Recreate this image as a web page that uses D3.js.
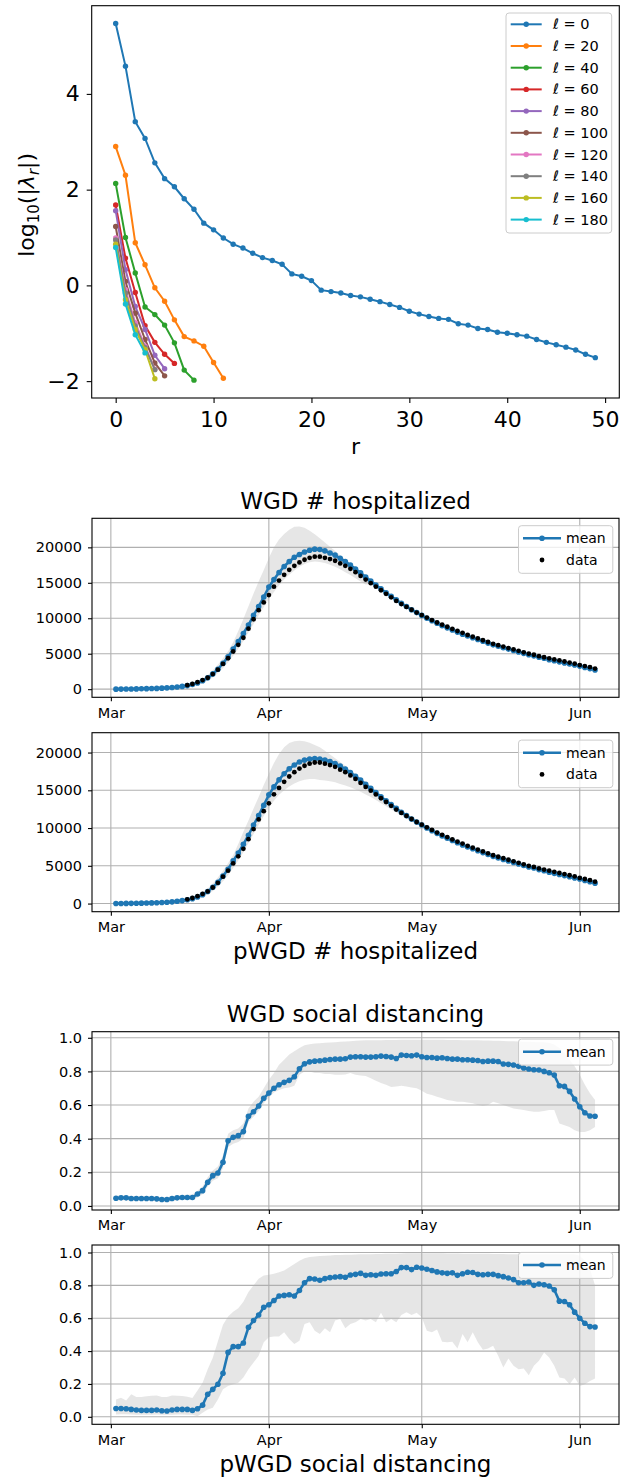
<!DOCTYPE html>
<html>
<head>
<meta charset="utf-8">
<style>
    body { margin: 0; background: #fff; }
    svg text { font-family: 'DejaVu Sans', sans-serif; fill: #000; }
    .axis .domain { display: none; }
    .axis .tick line { stroke: #000; stroke-width: 1.1; }
    .top-axis .tick text { font-size: 22px; }
    .low-axis .tick text { font-size: 14.5px; }
    .grid line { stroke: #b0b0b0; stroke-width: 1.1; }
    .frame { fill: none; stroke: #000; stroke-width: 1.1; }
    .legend-box { fill: #fff; fill-opacity: 0.8; stroke: #cccccc; stroke-width: 1; }
</style>
</head>
<body>
<svg id="fig" width="622" height="1483"></svg>

<script src="https://d3js.org/d3.v7.min.js"></script>
<script>
// ---- top panel: log10 |lambda_r| for several l ----
const ellLabels = [0, 20, 40, 60, 80, 100, 120, 140, 160, 180];
const lam0 = [5.47, 4.58, 3.42, 3.07, 2.56, 2.23, 2.06, 1.81, 1.59, 1.30,
    1.16, 0.99, 0.86, 0.78, 0.67, 0.58, 0.52, 0.44, 0.24, 0.19,
    0.10, -0.10, -0.13, -0.16, -0.21, -0.24, -0.29, -0.34, -0.40, -0.46,
    -0.54, -0.60, -0.65, -0.69, -0.71, -0.80, -0.83, -0.90, -0.92, -0.98,
    -1.00, -1.03, -1.06, -1.13, -1.19, -1.24, -1.29, -1.35, -1.44, -1.51];
const lam20 = [2.90, 2.30, 0.89, 0.43, -0.05, -0.33, -0.72, -1.07, -1.16, -1.27, -1.61, -1.94];
const lam40 = [2.13, 1.00, 0.26, -0.45, -0.61, -0.83, -1.20, -1.77, -1.98];
const lam60 = [1.68, 0.57, -0.15, -0.84, -1.19, -1.44, -1.63];
const lam80 = [1.56, 0.33, -0.44, -0.92, -1.46, -1.74];
const lam100 = [1.23, 0.08, -0.58, -1.13, -1.62, -1.89];
const lam120 = [0.99, -0.09, -0.78, -1.27, -1.75];
const lam140 = [0.95, -0.16, -0.85, -1.30, -1.76];
const lam160 = [0.86, -0.30, -0.92, -1.34, -1.95];
const lam180 = [0.79, -0.39, -1.03, -1.41];
const lamSeries = [lam0, lam20, lam40, lam60, lam80, lam100, lam120, lam140, lam160, lam180];
const topXTicks = [0, 10, 20, 30, 40, 50];
const topYTicks = [-2, 0, 2, 4];

// ---- daily series, Mar 2 .. Jun 4 (95 days) ----
const nDays = 95;
const monthTicks = ["2020-03-01", "2020-04-01", "2020-05-01", "2020-06-01"];

const hospData = [null, null, null, null, null, null, null, null, null, null,
    null, null, null, null, 560, 740, 980, 1280, 1610, 2130,
    2750, 3560, 4360, 5310, 6260, 7250, 8530, 9860, 11140, 12230,
    13270, 14460, 15310, 16120, 16830, 17400, 17870, 18250, 18530, 18680,
    18680, 18530, 18340, 18110, 17730, 17400, 16970, 16500, 15970, 15450,
    14950, 14450, 13950, 13450, 12950, 12450, 12000, 11600, 11200, 10800,
    10450, 10100, 9750, 9400, 9100, 8800, 8500, 8200, 7950, 7650,
    7400, 7150, 6900, 6650, 6400, 6200, 6000, 5800, 5600, 5400,
    5200, 5000, 4850, 4650, 4500, 4350, 4200, 4050, 3900, 3750,
    3600, 3400, 3250, 3100, 2900];

const wgdHospMean = [0, 10, 20, 30, 40, 55, 70, 90, 110, 140,
    180, 230, 300, 390, 500, 650, 870, 1180, 1600, 2150,
    2800, 3650, 4550, 5650, 6700, 7850, 9050, 10400, 11650, 13000,
    14400, 15450, 16450, 17300, 18000, 18600, 19000, 19350, 19600, 19750,
    19700, 19500, 19200, 18900, 18450, 18000, 17500, 16950, 16400, 15800,
    15250, 14700, 14150, 13600, 13100, 12600, 12100, 11650, 11200, 10800,
    10400, 10000, 9650, 9300, 8950, 8650, 8350, 8050, 7750, 7500,
    7250, 7000, 6750, 6500, 6250, 6050, 5850, 5650, 5450, 5250,
    5050, 4850, 4700, 4500, 4350, 4150, 4000, 3850, 3700, 3550,
    3400, 3250, 3050, 2900, 2700];
const wgdHospUpper = [0, 15, 30, 45, 60, 80, 100, 125, 150, 190,
    240, 300, 390, 500, 640, 830, 1100, 1500, 2000, 2650,
    3450, 4350, 5350, 6600, 8200, 9900, 11700, 13500, 15200, 16800,
    18500, 20000, 21100, 21900, 22500, 22900, 22950, 22750, 22350, 21850,
    21300, 20700, 20100, 19500, 18900, 18300, 17700, 17100, 16500, 15950,
    15400, 14850, 14300, 13750, 13250, 12750, 12250, 11800, 11350, 10950,
    10550, 10150, 9800, 9450, 9100, 8800, 8500, 8200, 7900, 7650,
    7400, 7150, 6900, 6650, 6400, 6200, 6000, 5800, 5600, 5400,
    5200, 5000, 4850, 4650, 4500, 4300, 4150, 4000, 3850, 3700,
    3550, 3400, 3200, 3050, 2850];
const wgdHospLower = [0, 5, 10, 20, 25, 35, 45, 60, 75, 95,
    125, 160, 210, 280, 370, 480, 640, 870, 1200, 1650,
    2250, 2950, 3750, 4700, 5700, 6800, 8000, 9200, 10400, 11600,
    12700, 13700, 14650, 15450, 16150, 16750, 17250, 17650, 17900, 18000,
    17950, 17800, 17550, 17250, 16900, 16500, 16100, 15650, 15200, 14750,
    14800, 14300, 13800, 13300, 12850, 12350, 11900, 11450, 11000, 10600,
    10200, 9800, 9450, 9100, 8750, 8450, 8150, 7850, 7550, 7300,
    7050, 6800, 6550, 6300, 6050, 5850, 5650, 5450, 5250, 5050,
    4850, 4650, 4500, 4300, 4150, 3950, 3800, 3650, 3500, 3350,
    3200, 3050, 2850, 2700, 2500];

const pwgdHospMean = [0, 10, 20, 30, 40, 55, 70, 90, 110, 140,
    180, 230, 300, 390, 500, 650, 870, 1180, 1600, 2150,
    2800, 3650, 4550, 5650, 6700, 7850, 9050, 10400, 11650, 13000,
    14400, 15450, 16400, 17200, 17850, 18350, 18750, 19000, 19150, 19200,
    19150, 19000, 18800, 18550, 18200, 17800, 17350, 16850, 16350, 15800,
    15250, 14700, 14150, 13600, 13100, 12600, 12100, 11650, 11200, 10800,
    10400, 10000, 9650, 9300, 8950, 8650, 8350, 8050, 7750, 7500,
    7250, 7000, 6750, 6500, 6250, 6050, 5850, 5650, 5450, 5250,
    5050, 4850, 4700, 4500, 4350, 4150, 4000, 3850, 3700, 3550,
    3400, 3250, 3050, 2900, 2700];
const pwgdHospUpper = [0, 15, 30, 45, 60, 80, 100, 125, 150, 190,
    240, 300, 390, 500, 640, 830, 1100, 1500, 2000, 2650,
    3450, 4350, 5350, 6400, 7900, 9500, 11000, 12600, 14100, 15700,
    17200, 18600, 19800, 20700, 21250, 21500, 21550, 21500, 21300, 21000,
    20700, 20250, 19750, 19250, 18750, 18250, 17700, 17150, 16600, 16000,
    15400, 14850, 14300, 13750, 13250, 12750, 12250, 11800, 11350, 10950,
    10550, 10150, 9800, 9450, 9100, 8800, 8500, 8200, 7900, 7650,
    7400, 7150, 6900, 6650, 6400, 6200, 6000, 5800, 5600, 5400,
    5200, 5000, 4850, 4650, 4500, 4300, 4150, 4000, 3850, 3700,
    3550, 3400, 3200, 3050, 2850];
const pwgdHospLower = [0, 5, 10, 20, 25, 35, 45, 60, 75, 95,
    125, 160, 210, 280, 370, 480, 640, 870, 1200, 1650,
    2250, 2950, 3750, 4700, 5700, 6800, 8000, 9200, 10400, 11600,
    12700, 13600, 14400, 15000, 15500, 15900, 16200, 16400, 16500, 16500,
    16350, 16300, 16200, 16050, 15850, 15650, 15400, 15100, 14800, 14450,
    14100, 13700, 13300, 12900, 12450, 12050, 11650, 11250, 10850, 10500,
    10200, 9800, 9450, 9100, 8750, 8450, 8150, 7850, 7550, 7300,
    7050, 6800, 6550, 6300, 6050, 5850, 5650, 5450, 5250, 5050,
    4850, 4650, 4500, 4300, 4150, 3950, 3800, 3650, 3500, 3350,
    3200, 3050, 2850, 2700, 2500];

const wgdSocMean = [0.046, 0.048, 0.048, 0.044, 0.044, 0.044, 0.044, 0.044, 0.042, 0.038,
    0.038, 0.044, 0.048, 0.050, 0.050, 0.050, 0.071, 0.091, 0.141, 0.180,
    0.196, 0.260, 0.388, 0.408, 0.418, 0.442, 0.533, 0.560, 0.594, 0.640,
    0.671, 0.700, 0.721, 0.735, 0.747, 0.768, 0.816, 0.846, 0.857, 0.861,
    0.863, 0.867, 0.871, 0.873, 0.873, 0.875, 0.885, 0.887, 0.887, 0.885,
    0.885, 0.887, 0.891, 0.889, 0.885, 0.877, 0.897, 0.895, 0.893, 0.897,
    0.887, 0.883, 0.883, 0.879, 0.881, 0.877, 0.873, 0.873, 0.869, 0.869,
    0.867, 0.865, 0.859, 0.861, 0.861, 0.859, 0.844, 0.842, 0.838, 0.830,
    0.820, 0.814, 0.810, 0.808, 0.800, 0.792, 0.778, 0.715, 0.711, 0.681,
    0.636, 0.590, 0.554, 0.535, 0.533];
const wgdSocUpper = [0.060, 0.062, 0.062, 0.058, 0.058, 0.058, 0.058, 0.058, 0.056, 0.052,
    0.052, 0.058, 0.062, 0.065, 0.066, 0.068, 0.090, 0.115, 0.170, 0.210,
    0.235, 0.300, 0.430, 0.450, 0.460, 0.490, 0.580, 0.620, 0.650, 0.700,
    0.750, 0.790, 0.840, 0.870, 0.900, 0.920, 0.940, 0.955, 0.962, 0.966,
    0.968, 0.970, 0.972, 0.974, 0.976, 0.978, 0.980, 0.982, 0.984, 0.985,
    0.985, 0.986, 0.986, 0.987, 0.987, 0.987, 0.988, 0.988, 0.988, 0.988,
    0.988, 0.988, 0.988, 0.988, 0.988, 0.987, 0.987, 0.987, 0.986, 0.986,
    0.985, 0.985, 0.984, 0.984, 0.983, 0.982, 0.981, 0.980, 0.979, 0.978,
    0.977, 0.976, 0.975, 0.974, 0.973, 0.970, 0.960, 0.940, 0.910, 0.870,
    0.830, 0.780, 0.720, 0.670, 0.630];
const wgdSocLower = [0.032, 0.034, 0.034, 0.030, 0.030, 0.030, 0.030, 0.030, 0.028, 0.024,
    0.024, 0.030, 0.034, 0.036, 0.036, 0.035, 0.050, 0.070, 0.115, 0.150,
    0.165, 0.225, 0.350, 0.370, 0.380, 0.400, 0.500, 0.530, 0.565, 0.610,
    0.645, 0.675, 0.690, 0.700, 0.705, 0.715, 0.780, 0.800, 0.800, 0.790,
    0.790, 0.785, 0.785, 0.780, 0.780, 0.782, 0.790, 0.780, 0.775, 0.772,
    0.760, 0.745, 0.731, 0.720, 0.707, 0.710, 0.715, 0.710, 0.705, 0.700,
    0.685, 0.667, 0.660, 0.650, 0.640, 0.630, 0.625, 0.620, 0.620, 0.615,
    0.610, 0.600, 0.594, 0.600, 0.620, 0.610, 0.600, 0.590, 0.580, 0.575,
    0.570, 0.565, 0.560, 0.560, 0.565, 0.570, 0.570, 0.490, 0.480, 0.470,
    0.450, 0.440, 0.440, 0.450, 0.470];

const pwgdSocMean = [0.051, 0.051, 0.049, 0.045, 0.041, 0.039, 0.039, 0.039, 0.041, 0.037,
    0.035, 0.041, 0.045, 0.045, 0.045, 0.039, 0.049, 0.071, 0.137, 0.167,
    0.198, 0.265, 0.392, 0.427, 0.427, 0.449, 0.545, 0.586, 0.620, 0.667,
    0.682, 0.708, 0.735, 0.739, 0.743, 0.735, 0.769, 0.816, 0.841, 0.839,
    0.831, 0.841, 0.847, 0.851, 0.853, 0.849, 0.863, 0.867, 0.873, 0.861,
    0.865, 0.861, 0.869, 0.871, 0.871, 0.884, 0.908, 0.908, 0.896, 0.910,
    0.906, 0.898, 0.890, 0.882, 0.876, 0.873, 0.876, 0.861, 0.871, 0.880,
    0.878, 0.867, 0.865, 0.867, 0.867, 0.859, 0.853, 0.845, 0.835, 0.816,
    0.816, 0.820, 0.800, 0.808, 0.804, 0.796, 0.773, 0.704, 0.702, 0.682,
    0.637, 0.600, 0.569, 0.549, 0.547];
const pwgdSocUpper = [0.106, 0.116, 0.100, 0.137, 0.120, 0.120, 0.125, 0.128, 0.130, 0.120,
    0.120, 0.130, 0.128, 0.126, 0.122, 0.115, 0.160, 0.208, 0.290, 0.360,
    0.460, 0.560, 0.610, 0.640, 0.660, 0.700, 0.760, 0.800, 0.840, 0.860,
    0.865, 0.870, 0.880, 0.890, 0.910, 0.930, 0.950, 0.965, 0.972, 0.975,
    0.978, 0.980, 0.982, 0.984, 0.985, 0.986, 0.987, 0.988, 0.990, 0.990,
    0.990, 0.991, 0.991, 0.992, 0.992, 0.993, 0.994, 0.995, 0.995, 0.996,
    0.996, 0.996, 0.995, 0.995, 0.995, 0.994, 0.994, 0.994, 0.993, 0.993,
    0.993, 0.992, 0.992, 0.992, 0.991, 0.991, 0.991, 0.990, 0.990, 0.990,
    0.990, 0.990, 0.990, 0.990, 0.990, 0.990, 0.990, 0.990, 0.990, 0.990,
    0.990, 0.980, 0.950, 0.900, 0.800];
const pwgdSocLower = [0.014, 0.015, 0.016, 0.014, 0.013, 0.012, 0.012, 0.013, 0.014, 0.013,
    0.012, 0.013, 0.014, 0.014, 0.013, 0.012, 0.004, 0.024, 0.045, 0.055,
    0.106, 0.167, 0.188, 0.198, 0.208, 0.239, 0.290, 0.330, 0.371, 0.453,
    0.484, 0.488, 0.488, 0.514, 0.473, 0.443, 0.463, 0.565, 0.576, 0.524,
    0.504, 0.539, 0.514, 0.586, 0.596, 0.539, 0.565, 0.576, 0.596, 0.586,
    0.596, 0.576, 0.633, 0.576, 0.596, 0.576, 0.620, 0.637, 0.620, 0.633,
    0.606, 0.524, 0.514, 0.531, 0.457, 0.453, 0.457, 0.416, 0.504, 0.453,
    0.514, 0.453, 0.408, 0.416, 0.433, 0.371, 0.300, 0.355, 0.310, 0.290,
    0.294, 0.253, 0.310, 0.341, 0.392, 0.361, 0.310, 0.239, 0.233, 0.198,
    0.239, 0.188, 0.198, 0.218, 0.233];

const hospTicks = [0, 5000, 10000, 15000, 20000];
const socTicks = [0, 0.2, 0.4, 0.6, 0.8, 1.0];

const tab10 = ["#1f77b4", "#ff7f0e", "#2ca02c", "#d62728", "#9467bd",
    "#8c564b", "#e377c2", "#7f7f7f", "#bcbd22", "#17becf"];

const svg = d3.select("#fig");

// matplotlib-style 5% padding around data range
function pad(ext) {
    let m = (ext[1] - ext[0]) * 0.05;
    return [ext[0] - m, ext[1] + m];
}

// ================= top panel =================
{
    let L = 91.7, R = 619.3, T = 5.7, B = 398;
    let allVals = lamSeries.flat();
    let x = d3.scaleLinear().domain(pad([0, 49])).range([L, R]);
    let y = d3.scaleLinear().domain(pad(d3.extent(allVals))).range([B, T]);
    let g = svg.append("g");

    g.append("g")
        .attr("class", "axis top-axis")
        .attr("transform", `translate(0,${B})`)
        .call(d3.axisBottom(x).tickValues(topXTicks).tickSize(5).tickPadding(8));
    g.append("g")
        .attr("class", "axis top-axis")
        .attr("transform", `translate(${L},0)`)
        .call(d3.axisLeft(y).tickValues(topYTicks).tickSize(5).tickPadding(7));

    let line = d3.line().x((d, i) => x(i)).y(d => y(d));
    lamSeries.forEach((s, k) => {
        let sg = g.append("g");
        sg.append("path")
            .attr("d", line(s))
            .attr("fill", "none")
            .attr("stroke", tab10[k])
            .attr("stroke-width", 2);
        sg.selectAll("circle")
            .data(s)
            .join("circle")
            .attr("cx", (d, i) => x(i))
            .attr("cy", d => y(d))
            .attr("r", 2.7)
            .attr("fill", tab10[k]);
    });

    g.append("rect").attr("class", "frame")
        .attr("x", L).attr("y", T).attr("width", R - L).attr("height", B - T);

    // axis labels
    g.append("text")
        .attr("x", (L + R) / 2).attr("y", 454)
        .attr("text-anchor", "middle")
        .style("font-size", "22px")
        .text("r");

    let yl = g.append("text")
        .attr("transform", `translate(34,${(T + B) / 2 + 3}) rotate(-90)`)
        .attr("text-anchor", "middle")
        .style("font-size", "22px");
    yl.append("tspan").text("log");
    yl.append("tspan").attr("dy", 5).style("font-size", "15px").text("10");
    yl.append("tspan").attr("dy", -5).text("(|");
    yl.append("tspan").style("font-style", "italic").text("λ");
    yl.append("tspan").attr("dy", 5).style("font-size", "15px").style("font-style", "italic").text("r");
    yl.append("tspan").attr("dy", -5).text("|)");

    // legend
    let lx = 506, ly = 13, lw = 105.7, lh = 220, step = 21.7;
    g.append("rect").attr("class", "legend-box")
        .attr("x", lx).attr("y", ly).attr("width", lw).attr("height", lh).attr("rx", 3);
    ellLabels.forEach((ell, k) => {
        let cy = 24.3 + k * step;
        g.append("line")
            .attr("x1", 510.7).attr("x2", 541.7).attr("y1", cy).attr("y2", cy)
            .attr("stroke", tab10[k]).attr("stroke-width", 2);
        g.append("circle").attr("cx", 526.2).attr("cy", cy).attr("r", 2.7).attr("fill", tab10[k]);
        let t = g.append("text").attr("x", 553).attr("y", cy + 5).style("font-size", "14.5px");
        t.append("tspan").style("font-style", "italic").text("ℓ");
        t.append("tspan").text(" = " + ell);
    });
}

// ================= time panels =================
const dates = d3.range(nDays).map(i => new Date(Date.UTC(2020, 2, 2 + i)));

function timePanel(opt) {
    let L = 92, R = 619, T = opt.top, B = opt.bottom;
    let g = svg.append("g");
    let vals = opt.lower.concat(opt.upper, opt.mean, (opt.data || []).filter(v => v != null));
    let x = d3.scaleUtc()
        .domain(pad([dates[0], dates[nDays - 1]].map(d => +d)).map(v => new Date(v)))
        .range([L, R]);
    let y = d3.scaleLinear().domain(pad(d3.extent(vals))).range([B, T]);
    let ticksX = monthTicks.map(s => new Date(s + "T00:00:00Z"));

    // band
    let band = d3.area()
        .x((d, i) => x(dates[i]))
        .y0((d, i) => y(opt.lower[i]))
        .y1((d, i) => y(opt.upper[i]));
    g.append("path")
        .attr("d", band(opt.mean))
        .attr("fill", "gray")
        .attr("fill-opacity", 0.2);

    // grid
    let grid = g.append("g").attr("class", "grid");
    grid.selectAll(".gx").data(ticksX).join("line")
        .attr("x1", d => x(d)).attr("x2", d => x(d)).attr("y1", T).attr("y2", B);
    grid.selectAll(".gy").data(opt.yTicks).join("line")
        .attr("x1", L).attr("x2", R).attr("y1", d => y(d)).attr("y2", d => y(d));

    // axes
    g.append("g")
        .attr("class", "axis low-axis")
        .attr("transform", `translate(0,${B})`)
        .call(d3.axisBottom(x).tickValues(ticksX).tickFormat(d3.utcFormat("%b")).tickSize(4).tickPadding(6));
    g.append("g")
        .attr("class", "axis low-axis")
        .attr("transform", `translate(${L},0)`)
        .call(d3.axisLeft(y).tickValues(opt.yTicks).tickFormat(opt.fmt).tickSize(4).tickPadding(6));

    // mean line with markers
    let line = d3.line().x((d, i) => x(dates[i])).y(d => y(d));
    g.append("path")
        .attr("d", line(opt.mean))
        .attr("fill", "none")
        .attr("stroke", tab10[0])
        .attr("stroke-width", 2.6);
    g.append("g").selectAll("circle")
        .data(opt.mean)
        .join("circle")
        .attr("cx", (d, i) => x(dates[i]))
        .attr("cy", d => y(d))
        .attr("r", 2.8)
        .attr("fill", tab10[0]);

    // observed data
    if (opt.data) {
        let pts = opt.data.map((v, i) => [dates[i], v]).filter(p => p[1] != null);
        g.append("g").selectAll("circle")
            .data(pts)
            .join("circle")
            .attr("cx", d => x(d[0]))
            .attr("cy", d => y(d[1]))
            .attr("r", 2.4)
            .attr("fill", "#000");
    }

    g.append("rect").attr("class", "frame")
        .attr("x", L).attr("y", T).attr("width", R - L).attr("height", B - T);

    // legend
    let nItems = opt.data ? 2 : 1;
    let lx = 518.5, ly = T + 7.4, lw = 94.3, lh = nItems == 2 ? 47.6 : 26;
    g.append("rect").attr("class", "legend-box")
        .attr("x", lx).attr("y", ly).attr("width", lw).attr("height", lh).attr("rx", 3);
    let cy = ly + 12.6;
    g.append("line").attr("x1", 523).attr("x2", 561).attr("y1", cy).attr("y2", cy)
        .attr("stroke", tab10[0]).attr("stroke-width", 2.6);
    g.append("circle").attr("cx", 542).attr("cy", cy).attr("r", 2.8).attr("fill", tab10[0]);
    g.append("text").attr("x", 566).attr("y", cy + 5).style("font-size", "14px").text("mean");
    if (opt.data) {
        let cy2 = cy + 21.7;
        g.append("circle").attr("cx", 542).attr("cy", cy2).attr("r", 2.4).attr("fill", "#000");
        g.append("text").attr("x", 566).attr("y", cy2 + 5).style("font-size", "14px").text("data");
    }

    // title / caption
    g.append("text")
        .attr("x", (L + R) / 2).attr("y", opt.titleY)
        .attr("text-anchor", "middle")
        .style("font-size", "23px")
        .text(opt.title);
}

const fmtInt = d3.format("d");
const fmt1 = d3.format(".1f");

timePanel({ top: 518.3, bottom: 697.3, mean: wgdHospMean, lower: wgdHospLower, upper: wgdHospUpper,
    data: hospData, yTicks: hospTicks, fmt: fmtInt, title: "WGD # hospitalized", titleY: 509 });
timePanel({ top: 732.7, bottom: 911.7, mean: pwgdHospMean, lower: pwgdHospLower, upper: pwgdHospUpper,
    data: hospData, yTicks: hospTicks, fmt: fmtInt, title: "pWGD # hospitalized", titleY: 959 });
timePanel({ top: 1031.7, bottom: 1210, mean: wgdSocMean, lower: wgdSocLower, upper: wgdSocUpper,
    data: null, yTicks: socTicks, fmt: fmt1, title: "WGD social distancing", titleY: 1022 });
timePanel({ top: 1245, bottom: 1424.3, mean: pwgdSocMean, lower: pwgdSocLower, upper: pwgdSocUpper,
    data: null, yTicks: socTicks, fmt: fmt1, title: "pWGD social distancing", titleY: 1472 });
</script>
</body>
</html>
